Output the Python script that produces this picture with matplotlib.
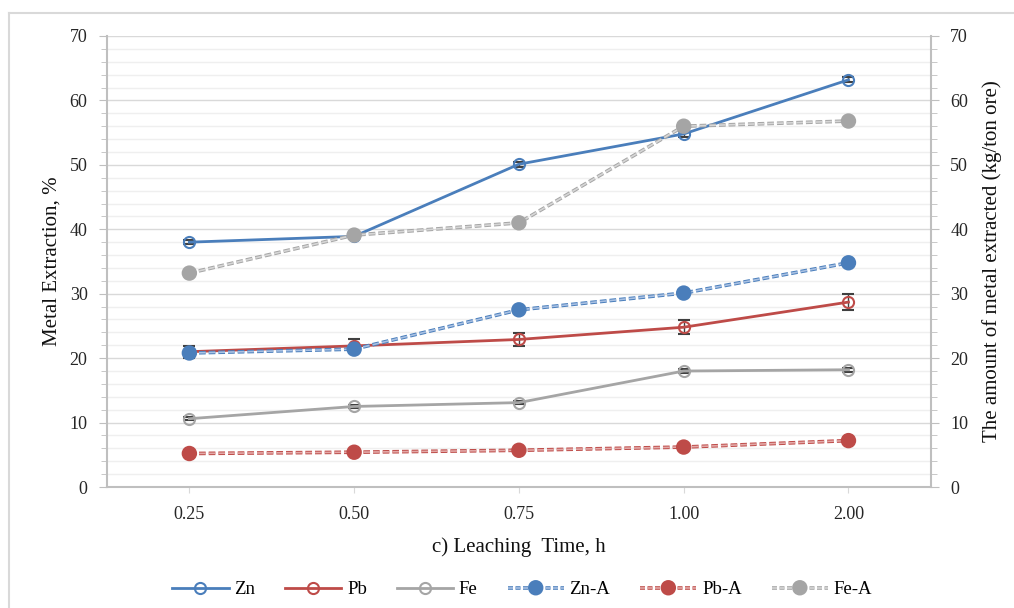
import numpy as np
import matplotlib
matplotlib.use("Agg")
from matplotlib import pyplot as plt
from matplotlib import patheffects as pe
from matplotlib.lines import Line2D
from matplotlib.ticker import MultipleLocator

plt.rcParams['font.family'] = ['Liberation Serif', 'DejaVu Serif']

# leaching time categories
times = ["0.25", "0.50", "0.75", "1.00", "2.00"]

# metal extraction, %
zn = [38.0, 38.9, 50.1, 54.8, 63.2]
pb = [21.0, 21.9, 22.9, 24.8, 28.7]
fe = [10.6, 12.5, 13.1, 18.0, 18.2]
zn_err = [0.3, 0.3, 0.4, 0.4, 0.4]
pb_err = [0.9, 1.1, 1.0, 1.1, 1.3]
fe_err = [0.2, 0.2, 0.2, 0.3, 0.3]

# amount of metal extracted, kg/ton ore
zn_a = [20.8, 21.4, 27.5, 30.1, 34.8]
pb_a = [5.2, 5.4, 5.7, 6.2, 7.2]
fe_a = [33.2, 39.1, 41.0, 56.0, 56.8]

BLUE = '#4a7ebb'
RED = '#be4b48'
GRAY = '#a5a5a5'
LBLUE = '#a9c1e3'
LRED = '#e3a9a8'
LGRAY = '#d6d6d6'

fig = plt.figure(figsize=(10.14, 6.08), dpi=100)
ax = fig.add_axes([0.1055, 0.199, 0.8125, 0.7418])
x = np.arange(len(times))

# outer frame, as in the original figure
fig.add_artist(Line2D([0.009, 0.009], [0.0, 0.979], color='#d9d9d9', lw=1.5))
fig.add_artist(Line2D([0.009, 1.0], [0.979, 0.979], color='#d9d9d9', lw=1.5))

for vals, err, col in [(zn, zn_err, BLUE), (pb, pb_err, RED), (fe, fe_err, GRAY)]:
    ax.errorbar(x, vals, yerr=err, color=col, lw=2, marker='o', ms=8, mfc='none',
                mec=col, mew=1.5, ecolor='#404040', elinewidth=1, capsize=4, zorder=3)

ax.set_xlim(-0.5, len(times) - 0.5)
ax.set_ylim(0, 70)
ax.set_xticks(x)
ax.set_xticklabels(times)
ax.yaxis.set_major_locator(MultipleLocator(10))
ax.yaxis.set_minor_locator(MultipleLocator(2))
ax.grid(axis='y', which='major', color='#d9d9d9', lw=1)
ax.grid(axis='y', which='minor', color='#efefef', lw=1)
ax.set_axisbelow(True)
ax.tick_params(axis='y', which='major', length=6, color='#bfbfbf', labelsize=13, labelcolor='#262626', pad=8)
ax.tick_params(axis='y', which='minor', length=4, color='#bfbfbf')
ax.tick_params(axis='x', length=4, color='#d9d9d9', labelsize=13, labelcolor='#262626', pad=10)
for s in ['left', 'bottom']:
    ax.spines[s].set_color('#bfbfbf')
    ax.spines[s].set_linewidth(1.5)
ax.spines['top'].set_visible(False)
ax.spines['right'].set_visible(False)
ax.set_ylabel('Metal Extraction, %', fontsize=15, color='#111111', labelpad=6)
ax.set_xlabel('c) Leaching  Time, h', fontsize=15, color='#111111', labelpad=10)

ax2 = ax.twinx()
ax2.set_ylim(0, 70)
ax2.yaxis.set_major_locator(MultipleLocator(10))
ax2.yaxis.set_minor_locator(MultipleLocator(2))
ax2.tick_params(axis='y', which='major', length=6, color='#bfbfbf', labelsize=13, labelcolor='#262626', pad=8)
ax2.tick_params(axis='y', which='minor', length=4, color='#bfbfbf')
ax2.spines['right'].set_color('#bfbfbf')
ax2.spines['right'].set_linewidth(1.5)
for s in ['left', 'top', 'bottom']:
    ax2.spines[s].set_visible(False)
ax2.set_ylabel('The amount of metal extracted (kg/ton ore)', fontsize=15, color='#111111', labelpad=10)

for vals, col, lcol in [(zn_a, BLUE, LBLUE), (pb_a, RED, LRED), (fe_a, GRAY, LGRAY)]:
    ax2.plot(x, vals, color=lcol, lw=1.2, ls=(0, (4, 1.8)), marker='o', ms=8.5,
             mfc=col, mec=col,
             path_effects=[pe.Stroke(linewidth=2.6, foreground=col), pe.Normal()])

handles = [
    Line2D([], [], color=BLUE, lw=2, marker='o', ms=8, mfc='none', mec=BLUE, mew=1.5),
    Line2D([], [], color=RED, lw=2, marker='o', ms=8, mfc='none', mec=RED, mew=1.5),
    Line2D([], [], color=GRAY, lw=2, marker='o', ms=8, mfc='none', mec=GRAY, mew=1.5),
]
for col, lcol in [(BLUE, LBLUE), (RED, LRED), (GRAY, LGRAY)]:
    handles.append(Line2D([], [], color=lcol, lw=1.2, ls=(0, (3, 1.5)), marker='o', ms=8.5,
                          mfc=col, mec=col,
                          path_effects=[pe.Stroke(linewidth=2.6, foreground=col), pe.Normal()]))
fig.legend(handles, ['Zn', 'Pb', 'Fe', 'Zn-A', 'Pb-A', 'Fe-A'], loc='center',
           bbox_to_anchor=(0.515, 0.03), ncol=6, frameon=False, fontsize=13.5,
           handlelength=3.0, handletextpad=0.3, columnspacing=1.6)

fig.savefig('out.png', dpi=100)
